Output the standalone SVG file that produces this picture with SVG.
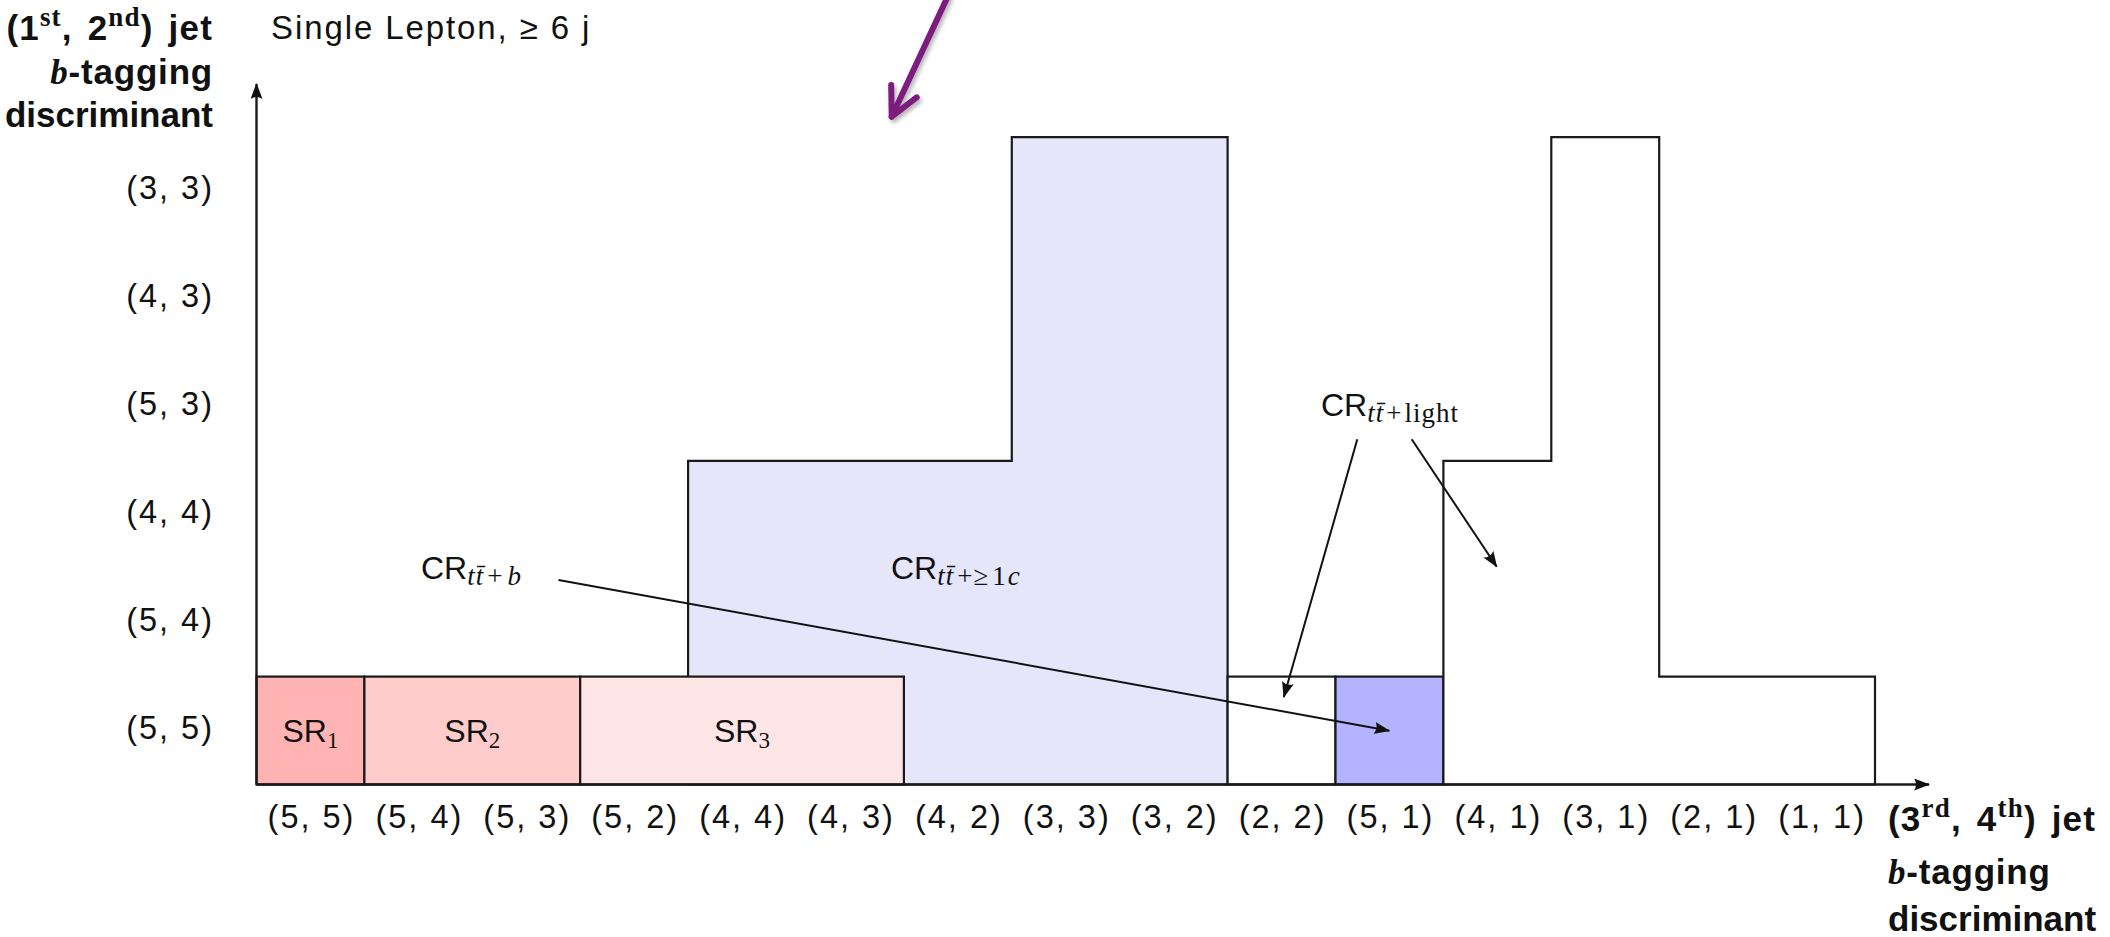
<svg xmlns="http://www.w3.org/2000/svg" width="2110" height="937" viewBox="0 0 2110 937">
<defs>
<style>
text{font-family:"Liberation Sans",Arial,sans-serif;fill:#111}
.num{font-size:32.5px;letter-spacing:2px}
.ttl{font-size:33px;letter-spacing:1.9px}
.ax{font-size:35px;font-weight:bold}
.l1{letter-spacing:1.2px;word-spacing:4px}
.sup{font-family:"Liberation Serif",serif;font-size:27px;font-weight:bold}
.bi{font-family:"Liberation Serif",serif;font-style:italic;font-weight:bold}
.lab{font-size:32px}
.sub{font-family:"Liberation Serif",serif;font-size:27px;letter-spacing:1px}
.ssub{font-family:"Liberation Serif",serif;font-size:23px}
.it{font-style:italic}
.box{stroke:#1a1a1a;stroke-width:2.2}
.ln{stroke:#111;stroke-width:2;fill:none}
.axis{stroke:#1a1a1a;stroke-width:2.4;fill:none}
</style>
<marker id="ah" markerUnits="userSpaceOnUse" viewBox="0 0 16 12" refX="15" refY="6" markerWidth="16" markerHeight="12" orient="auto"><path d="M0,0 Q4,6 0,12 L16,6 z" fill="#111"/></marker>
<filter id="sh" x="-30%" y="-30%" width="160%" height="160%"><feDropShadow dx="2" dy="3" stdDeviation="2" flood-color="#000" flood-opacity="0.3"/></filter>
</defs>
<rect width="2110" height="937" fill="#fff"/>

<g id="cr-1c"><polygon class="box" fill="#e6e6fb" points="688.1,784.5 688.1,460.8 1011.8,460.8 1011.8,137.1 1227.6,137.1 1227.6,784.5"/><text class="lab" x="891" y="579">CR<tspan class="sub it" dy="6">tt&#x304;</tspan><tspan class="sub" dx="3">+≥</tspan><tspan class="sub" dx="3">1</tspan><tspan class="sub it" dx="1">c</tspan></text></g>
<g id="sr1"><rect class="box" fill="#ffb3b3" x="256.5" y="676.6" width="107.9" height="107.9"/><text class="lab" x="310.5" y="742" text-anchor="middle">SR<tspan class="ssub" dy="6">1</tspan></text></g>
<g id="sr2"><rect class="box" fill="#ffcccc" x="364.4" y="676.6" width="215.8" height="107.9"/><text class="lab" x="472.3" y="742" text-anchor="middle">SR<tspan class="ssub" dy="6">2</tspan></text></g>
<g id="sr3"><rect class="box" fill="#ffe6e6" x="580.2" y="676.6" width="323.7" height="107.9"/><text class="lab" x="742" y="742" text-anchor="middle">SR<tspan class="ssub" dy="6">3</tspan></text></g>
<g id="cr-light-a"><rect class="box" fill="#fff" x="1227.6" y="676.6" width="107.9" height="107.9"/></g>
<g id="cr-b"><rect class="box" fill="#b3b3ff" x="1335.5" y="676.6" width="107.9" height="107.9"/><text class="lab" x="421" y="579">CR<tspan class="sub it" dy="6">tt&#x304;</tspan><tspan class="sub" dx="3">+</tspan><tspan class="sub it" dx="4">b</tspan></text></g>
<g id="cr-light-b"><polygon class="box" fill="#fff" points="1443.4,784.5 1443.4,460.8 1551.3,460.8 1551.3,137.1 1659.2,137.1 1659.2,676.6 1875,676.6 1875,784.5"/><text class="lab" x="1321" y="416">CR<tspan class="sub it" dy="6">tt&#x304;</tspan><tspan class="sub" dx="2">+</tspan><tspan class="sub" dx="2">light</tspan></text></g>

<g id="axes">
<path class="axis" d="M256.5,784.5 L256.5,84" marker-end="url(#ah)"/>
<path class="axis" d="M256.5,784.5 L1929,784.5" marker-end="url(#ah)"/>
</g>

<g id="connectors">
<path class="ln" d="M558.5,580 L1389.3,730.7" marker-end="url(#ah)"/>
<path class="ln" d="M1357.3,439.3 L1283.8,697" marker-end="url(#ah)"/>
<path class="ln" d="M1411.7,439.3 L1496.7,566.7" marker-end="url(#ah)"/>
<g filter="url(#sh)" stroke="#7b1d7e" stroke-width="6" stroke-linecap="round" stroke-linejoin="round" fill="none">
<path d="M948,-4 L891.7,116.7"/>
<path d="M891.2,85 L891.7,116.7 L916.7,97.3"/>
</g>
</g>

<g id="title"><text class="ttl" x="271" y="39">Single Lepton, ≥ 6 j</text></g>

<g id="y-title">
<text class="ax l1" x="213" y="40" text-anchor="end">(1<tspan class="sup" dy="-14">st</tspan><tspan dy="14">, 2</tspan><tspan class="sup" dy="-14">nd</tspan><tspan dy="14">) jet</tspan></text>
<text class="ax" x="213" y="84" text-anchor="end" letter-spacing="0.8"><tspan class="bi">b</tspan>-tagging</text>
<text class="ax" x="213" y="127" text-anchor="end">discriminant</text>
</g>

<g id="x-title">
<text class="ax l1" x="1888" y="831">(3<tspan class="sup" dy="-14">rd</tspan><tspan dy="14">, 4</tspan><tspan class="sup" dy="-14">th</tspan><tspan dy="14">) jet</tspan></text>
<text class="ax" x="1888" y="884" letter-spacing="0.8"><tspan class="bi">b</tspan>-tagging</text>
<text class="ax" x="1888" y="931">discriminant</text>
</g>

<g id="y-ticks" text-anchor="end">
<text class="num" x="214" y="739">(5, 5)</text>
<text class="num" x="214" y="631">(5, 4)</text>
<text class="num" x="214" y="523">(4, 4)</text>
<text class="num" x="214" y="415">(5, 3)</text>
<text class="num" x="214" y="307">(4, 3)</text>
<text class="num" x="214" y="199">(3, 3)</text>
</g>

<g id="x-ticks" text-anchor="middle">
<text class="num" x="311.5" y="828">(5, 5)</text>
<text class="num" x="419.4" y="828">(5, 4)</text>
<text class="num" x="527.3" y="828">(5, 3)</text>
<text class="num" x="635.2" y="828">(5, 2)</text>
<text class="num" x="743.1" y="828">(4, 4)</text>
<text class="num" x="851" y="828">(4, 3)</text>
<text class="num" x="958.9" y="828">(4, 2)</text>
<text class="num" x="1066.8" y="828">(3, 3)</text>
<text class="num" x="1174.7" y="828">(3, 2)</text>
<text class="num" x="1282.6" y="828">(2, 2)</text>
<text class="num" x="1390.5" y="828">(5, 1)</text>
<text class="num" x="1498.4" y="828">(4, 1)</text>
<text class="num" x="1606.3" y="828">(3, 1)</text>
<text class="num" x="1714.2" y="828">(2, 1)</text>
<text class="num" x="1822.1" y="828">(1, 1)</text>
</g>
</svg>
